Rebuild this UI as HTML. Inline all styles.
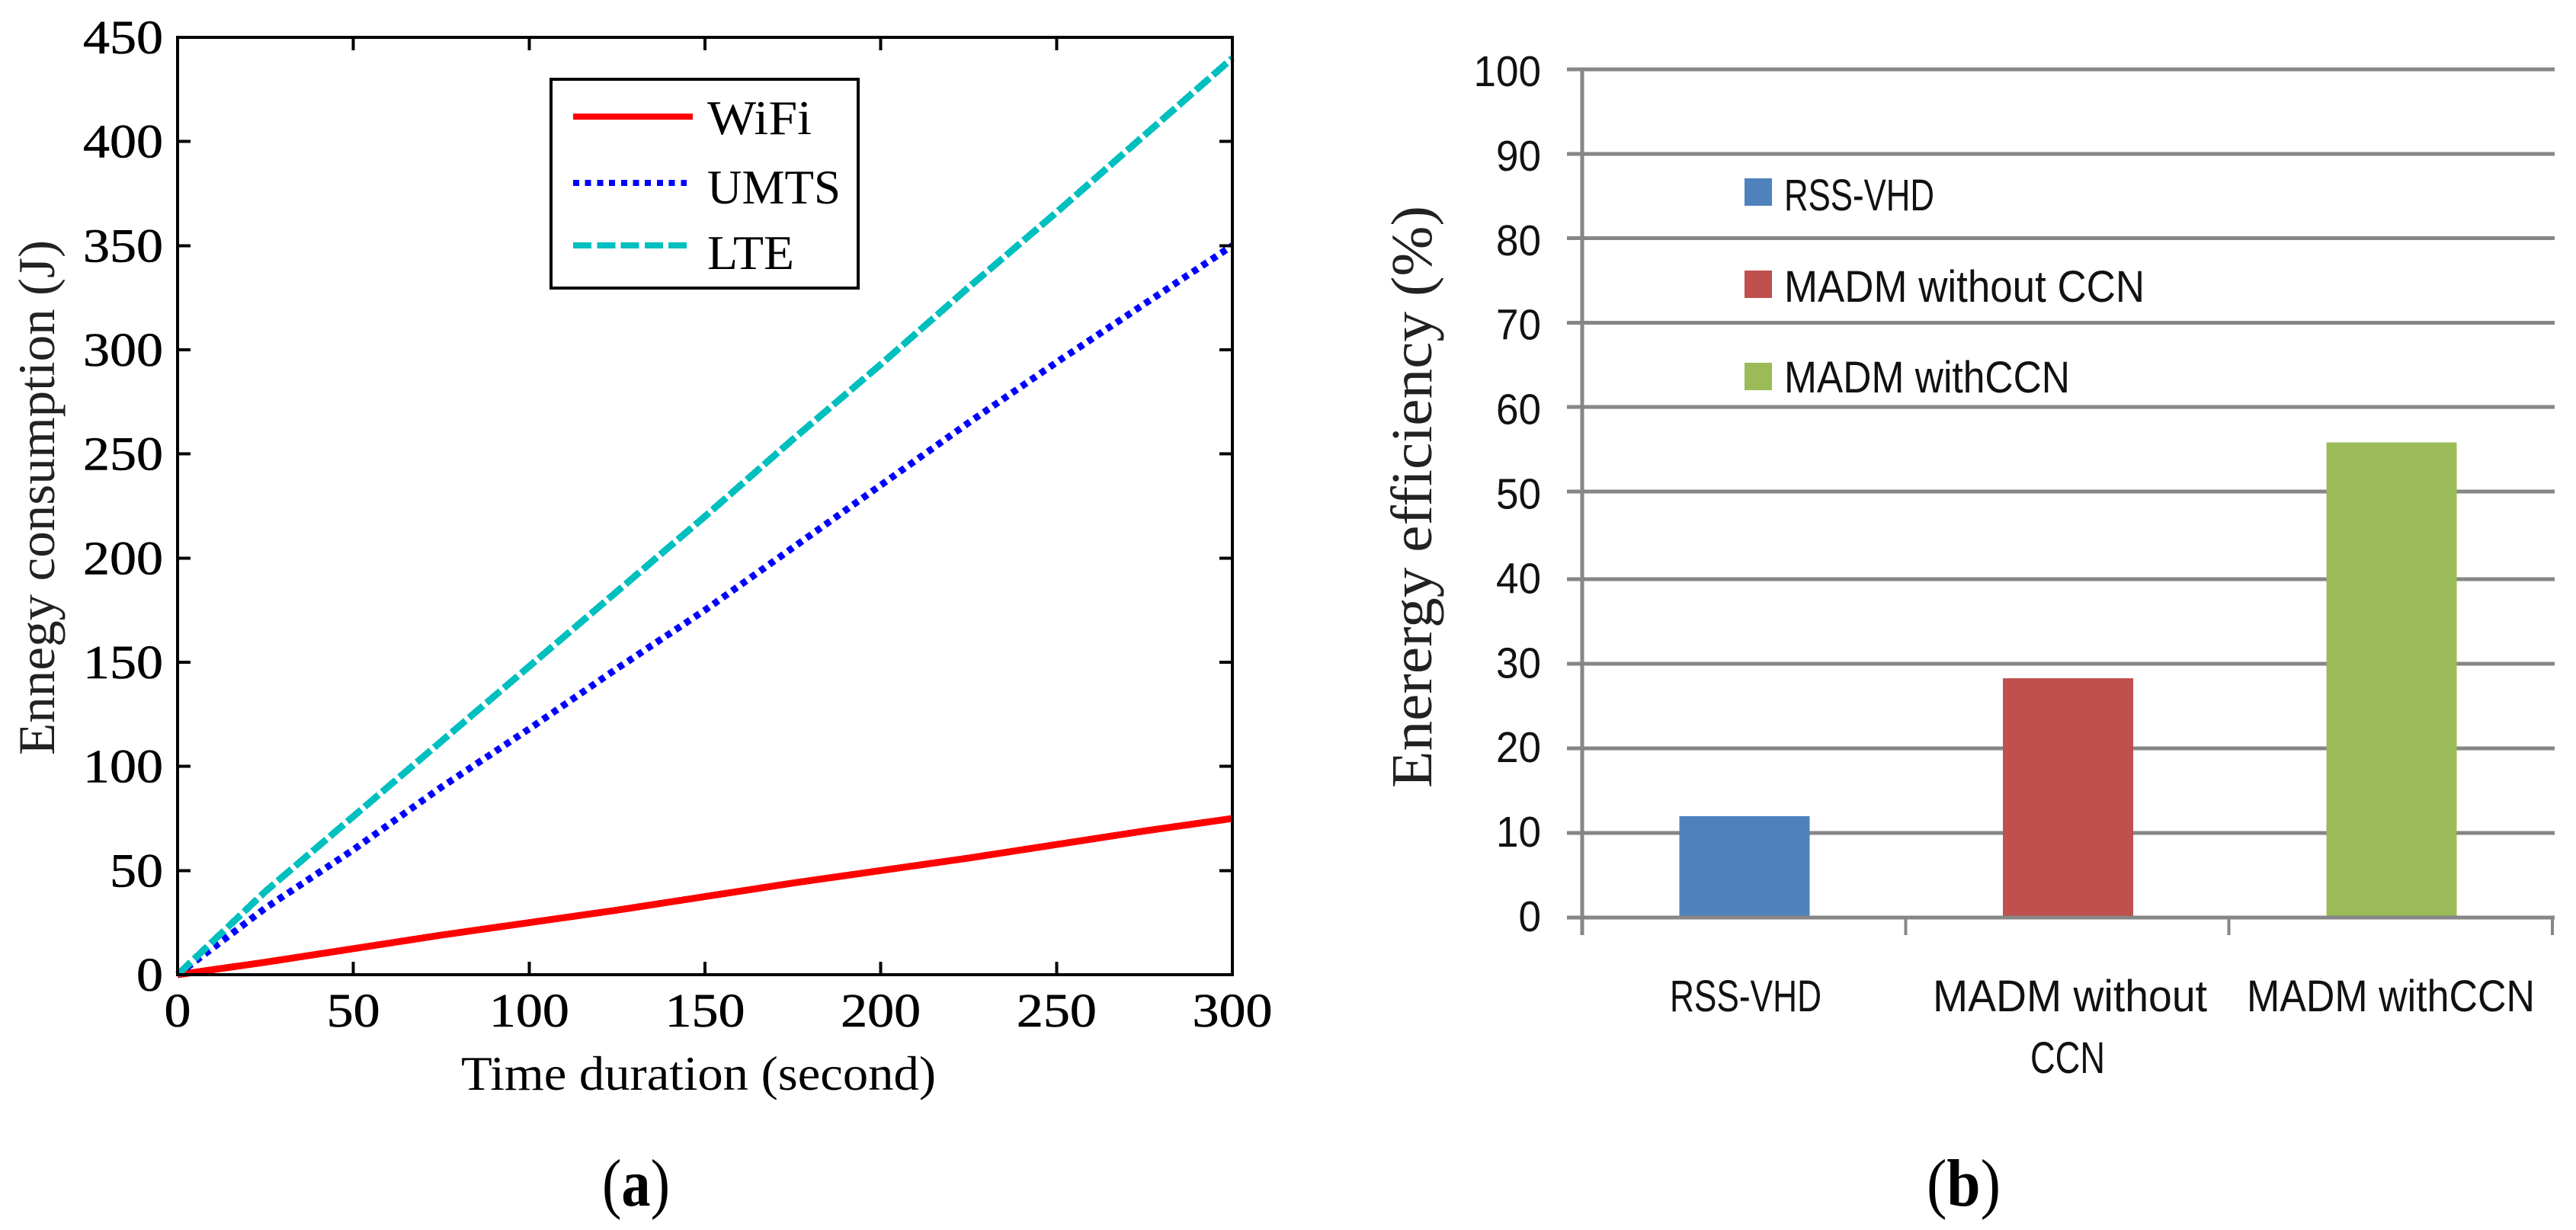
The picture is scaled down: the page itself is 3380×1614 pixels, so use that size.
<!DOCTYPE html>
<html lang="en">
<head>
<meta charset="utf-8">
<title>Energy consumption and energy efficiency charts</title>
<style>
html,body{margin:0;padding:0;background:#fff;width:3380px;height:1614px;overflow:hidden}
svg{display:block}
.serif{font-family:"Liberation Serif",serif;fill:#000}
.sans{font-family:"Liberation Sans",sans-serif;fill:#111}
#a-ticklabels{stroke:#000;stroke-width:0.6}
</style>
</head>
<body>
<svg id="figure" xmlns="http://www.w3.org/2000/svg" width="3380" height="1614" viewBox="0 0 3380 1614">
  <rect x="0" y="0" width="3380" height="1614" fill="#fff"/>
  <g id="chart-a">
    <g id="a-series"></g>
    <g id="a-axes"></g>
    <g id="a-ticklabels" class="serif" font-size="62"></g>
    <text class="serif" x="605" y="1430" font-size="64" textLength="623" lengthAdjust="spacingAndGlyphs">Time duration (second)</text>
    <text class="serif" transform="translate(71,991) rotate(-90)" font-size="68" textLength="676" lengthAdjust="spacingAndGlyphs" style="fill:#222">Ennegy consumption (J)</text>
    <g>
      <rect x="723" y="104" width="403" height="274" fill="#fff" stroke="#000" stroke-width="4"/>
      <line x1="752" x2="909" y1="153" y2="153" stroke="#ff0000" stroke-width="8" shape-rendering="crispEdges"/>
      <line x1="752" x2="901" y1="240" y2="240" stroke="#0000ff" stroke-width="8" stroke-dasharray="8 7.7" shape-rendering="crispEdges"/>
      <line x1="752" x2="901" y1="322" y2="322" stroke="#00bfbf" stroke-width="8" stroke-dasharray="24 7.3" shape-rendering="crispEdges"/>
      <text class="serif" x="928" y="176" font-size="63" textLength="137" lengthAdjust="spacingAndGlyphs">WiFi</text>
      <text class="serif" x="928" y="267" font-size="63" textLength="175" lengthAdjust="spacingAndGlyphs">UMTS</text>
      <text class="serif" x="928" y="353" font-size="63" textLength="114" lengthAdjust="spacingAndGlyphs">LTE</text>
    </g>
    <text class="serif" x="790" y="1582" font-size="88" textLength="89" lengthAdjust="spacingAndGlyphs">(<tspan font-weight="bold">a</tspan>)</text>
  </g>
  <g id="chart-b">
    <g id="b-grid"></g>
    <g id="b-bars"></g>
    <g id="b-axes"></g>
    <g id="b-ticklabels" class="sans" font-size="57"></g>
    <text class="serif" transform="translate(1878,1034) rotate(-90)" font-size="76" textLength="764" lengthAdjust="spacingAndGlyphs" style="fill:#222">Enerergy efficiency (%)</text>
    <g>
      <rect x="2289" y="234" width="36" height="36" fill="#4f81bd"/>
      <rect x="2289" y="355" width="36" height="36" fill="#c0504d"/>
      <rect x="2289" y="476" width="36" height="36" fill="#9bbb59"/>
      <text class="sans" x="2341" y="276" font-size="58" textLength="197" lengthAdjust="spacingAndGlyphs">RSS-VHD</text>
      <text class="sans" x="2341" y="396" font-size="58" textLength="473" lengthAdjust="spacingAndGlyphs">MADM without CCN</text>
      <text class="sans" x="2341" y="515" font-size="58" textLength="375" lengthAdjust="spacingAndGlyphs">MADM withCCN</text>
    </g>
    <g>
      <text class="sans" x="2191" y="1327" font-size="58" textLength="199" lengthAdjust="spacingAndGlyphs">RSS-VHD</text>
      <text class="sans" x="2536" y="1327" font-size="58" textLength="360" lengthAdjust="spacingAndGlyphs">MADM without</text>
      <text class="sans" x="2664" y="1408" font-size="58" textLength="98" lengthAdjust="spacingAndGlyphs">CCN</text>
      <text class="sans" x="2948" y="1327" font-size="58" textLength="378" lengthAdjust="spacingAndGlyphs">MADM withCCN</text>
    </g>
    <text class="serif" x="2528" y="1582" font-size="88" textLength="97" lengthAdjust="spacingAndGlyphs">(<tspan font-weight="bold">b</tspan>)</text>
  </g>
</svg>
<script>
/* Chart (a) data */
const timeSeconds = [0, 25, 50, 75, 100, 125, 150, 175, 200, 225, 250, 275, 300];
const wifiEnergy = [0, 6, 12.5, 19, 25, 31, 37.5, 44, 50, 56, 62.5, 69, 75];
const umtsEnergy = [0, 32, 60, 90, 118, 147, 175, 205, 235, 265, 294, 322, 350];
const lteEnergy = [0, 40, 76, 112, 148, 184, 220, 257, 293, 330, 366, 403, 440];
const xTicksA = [0, 50, 100, 150, 200, 250, 300];
const yTicksA = [0, 50, 100, 150, 200, 250, 300, 350, 400, 450];

/* Chart (b) data */
const methods = ["RSS-VHD", "MADM without CCN", "MADM withCCN"];
const efficiency = [12, 28.3, 55.8];
const barColors = ["#4f81bd", "#c0504d", "#9bbb59"];
const yTicksB = [0, 10, 20, 30, 40, 50, 60, 70, 80, 90, 100];

const NS = "http://www.w3.org/2000/svg";
function make(tag, parent, attrs) {
  const el = document.createElementNS(NS, tag);
  for (const k in attrs) el.setAttribute(k, attrs[k]);
  parent.appendChild(el);
  return el;
}

/* Axis functions, chart (a) */
const A = { left: 233, right: 1617, top: 49, bottom: 1279, xMax: 300, yMax: 450 };
function xA(v) { return A.left + (v / A.xMax) * (A.right - A.left); }
function yA(v) { return A.bottom - (v / A.yMax) * (A.bottom - A.top); }

/* Axis functions, chart (b) — the source plot's gridlines are slightly uneven between 40 and 50 */
const bPlot = { left: 2076, right: 3349, gridLeft: 2056, gridRight: 3352, tickBottom: 1227 };
function yB(v) {
  if (v <= 40) return 1204 - (v / 40) * 444;
  if (v <= 50) return 760 - ((v - 40) / 10) * 115;
  return 645 - ((v - 50) / 50) * 554;
}
function yBLabel(v) { return 1222 - v * 11.09; }
function bandEdge(i) { return bPlot.left + (i / methods.length) * (bPlot.right - bPlot.left); }
function bandCenter(i) { return (bandEdge(i) + bandEdge(i + 1)) / 2; }

/* Draw chart (a) */
const aSeries = document.getElementById("a-series");
const aAxes = document.getElementById("a-axes");
const aLabels = document.getElementById("a-ticklabels");

function drawLine(values, color, dash, name) {
  const pts = values.map(function (v, i) { return xA(timeSeconds[i]) + "," + yA(v); }).join(" ");
  const attrs = { points: pts, fill: "none", stroke: color, "stroke-width": 9, "shape-rendering": "crispEdges" };
  if (dash) attrs["stroke-dasharray"] = dash;
  const el = make("polyline", aSeries, attrs);
  
  
}
drawLine(wifiEnergy, "#ff0000", null, "series-wifi");
drawLine(umtsEnergy, "#0000ff", "8 7", "series-umts");
drawLine(lteEnergy, "#00bfbf", "24 6", "series-lte");

const frame = make("rect", aAxes, { x: A.left, y: A.top, width: A.right - A.left, height: A.bottom - A.top, fill: "none", stroke: "#000", "stroke-width": 4, "shape-rendering": "crispEdges" });



xTicksA.forEach(function (v) {
  const x = xA(v);
  const bottomTick = make("line", aAxes, { x1: x, x2: x, y1: A.bottom, y2: A.bottom - 17, stroke: "#000", "stroke-width": 4, "shape-rendering": "crispEdges" });
  
  
  const topTick = make("line", aAxes, { x1: x, x2: x, y1: A.top, y2: A.top + 17, stroke: "#000", "stroke-width": 4, "shape-rendering": "crispEdges" });
  
  
  const s = String(v);
  const label = make("text", aLabels, { x: x, y: 1347, "text-anchor": "middle", textLength: s.length * 35, lengthAdjust: "spacingAndGlyphs" });
  label.textContent = s;
  
  
});

yTicksA.forEach(function (v) {
  const y = yA(v);
  const leftTick = make("line", aAxes, { x1: A.left, x2: A.left + 17, y1: y, y2: y, stroke: "#000", "stroke-width": 4, "shape-rendering": "crispEdges" });
  
  
  const rightTick = make("line", aAxes, { x1: A.right, x2: A.right - 17, y1: y, y2: y, stroke: "#000", "stroke-width": 4, "shape-rendering": "crispEdges" });
  
  
  const s = String(v);
  const label = make("text", aLabels, { x: 214, y: y + 21, "text-anchor": "end", textLength: s.length * 35, lengthAdjust: "spacingAndGlyphs" });
  label.textContent = s;
  
  
});

/* Draw chart (b) */
const bGrid = document.getElementById("b-grid");
const bBars = document.getElementById("b-bars");
const bAxes = document.getElementById("b-axes");
const bLabels = document.getElementById("b-ticklabels");
const GREY = "#868686";

yTicksB.forEach(function (v) {
  const y = yB(v);
  if (v !== 0) {
    const grid = make("line", bGrid, { x1: bPlot.gridLeft, x2: bPlot.gridRight, y1: y, y2: y, stroke: GREY, "stroke-width": 5, "shape-rendering": "crispEdges" });
    
    
  }
  const s = String(v);
  const label = make("text", bLabels, { x: 2022, y: yBLabel(v), "text-anchor": "end", textLength: s.length * 29.5, lengthAdjust: "spacingAndGlyphs" });
  label.textContent = s;
  
  
});

efficiency.forEach(function (v, i) {
  const barWidth = 171;
  const bar = make("rect", bBars, { x: bandCenter(i) - barWidth / 2 + 1, y: yB(v), width: barWidth, height: yB(0) - yB(v), fill: barColors[i], "shape-rendering": "crispEdges" });
  
  
  const title = make("title", bar, {});
  title.textContent = methods[i];
});

const baseline = make("line", bAxes, { x1: bPlot.gridLeft, x2: bPlot.gridRight, y1: yB(0), y2: yB(0), stroke: GREY, "stroke-width": 5, "shape-rendering": "crispEdges" });


const yAxisLine = make("line", bAxes, { x1: bPlot.left, x2: bPlot.left, y1: yB(100), y2: bPlot.tickBottom, stroke: GREY, "stroke-width": 5, "shape-rendering": "crispEdges" });


for (let i = 1; i <= methods.length; i++) {
  const tick = make("line", bAxes, { x1: bandEdge(i), x2: bandEdge(i), y1: yB(0), y2: bPlot.tickBottom, stroke: GREY, "stroke-width": 4, "shape-rendering": "crispEdges" });
  
  
}
</script>
</body>
</html>
